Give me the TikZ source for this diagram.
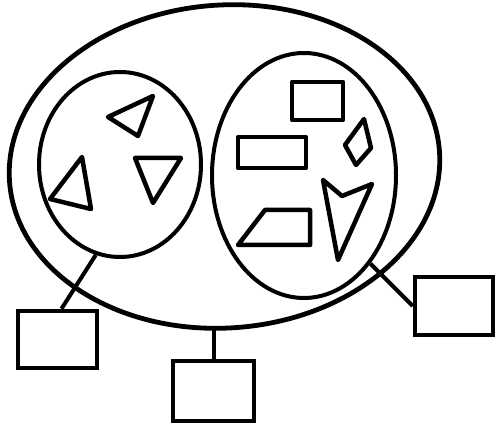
\documentclass[tikz,border=0pt]{standalone}
\usepackage{tikz}
\usetikzlibrary{shapes.geometric,positioning,calc}

\begin{document}
\begin{tikzpicture}[
  x=1pt, y=-1pt,
  set/.style={draw, ellipse, inner sep=0pt, line width=4pt},
  box/.style={draw, rectangle, inner sep=0pt, line width=4.5pt},
  piece/.style={line width=4.5pt, line join=round},
  link/.style={line width=4pt}
]
\useasboundingbox (0,0) rectangle (498,430);

\node[set, line width=4.8pt, minimum width=431pt, minimum height=323pt, rotate=4] (big) at (224.5,166.5) {};
\node[set, minimum width=162pt, minimum height=185pt] (lc) at (120,164.5) {};
\node[set, minimum width=184pt, minimum height=245pt] (rc) at (304,175.5) {};

% triangles
\draw[piece] (108,117) -- (153,96) -- (138,136) -- cycle;
\draw[piece] (135,158) -- (181,158) -- (153,203) -- cycle;
\draw[piece] (82,157) -- (50,199) -- (91,209) -- cycle;

% other pieces
\draw[piece] (292,82) rectangle (343,120);
\draw[piece] (238,137) rectangle (306,168);
\draw[piece] (364,119) -- (371,148) -- (356,165) -- (345,145) -- cycle;
\draw[piece] (265,210) -- (310,210) -- (310,245) -- (238,245) -- cycle;
\draw[piece] (323,180) -- (342,196) -- (372,184) -- (338,260) -- cycle;

\node[box, minimum width=79pt, minimum height=57pt] (lbox) at (57.5,339.5) {};
\node[box, minimum width=81pt, minimum height=60pt] (mbox) at (213.5,391) {};
\node[box, minimum width=78pt, minimum height=58pt] (rbox) at (454,306) {};

\draw[link] (lc.-105) -- ($(lbox.north)+(4,0)$);
\draw[link] (mbox.north) -- (mbox.north |- big.south);
\draw[link] (rc.-53) -- (rbox.west);

\end{tikzpicture}
\end{document}
